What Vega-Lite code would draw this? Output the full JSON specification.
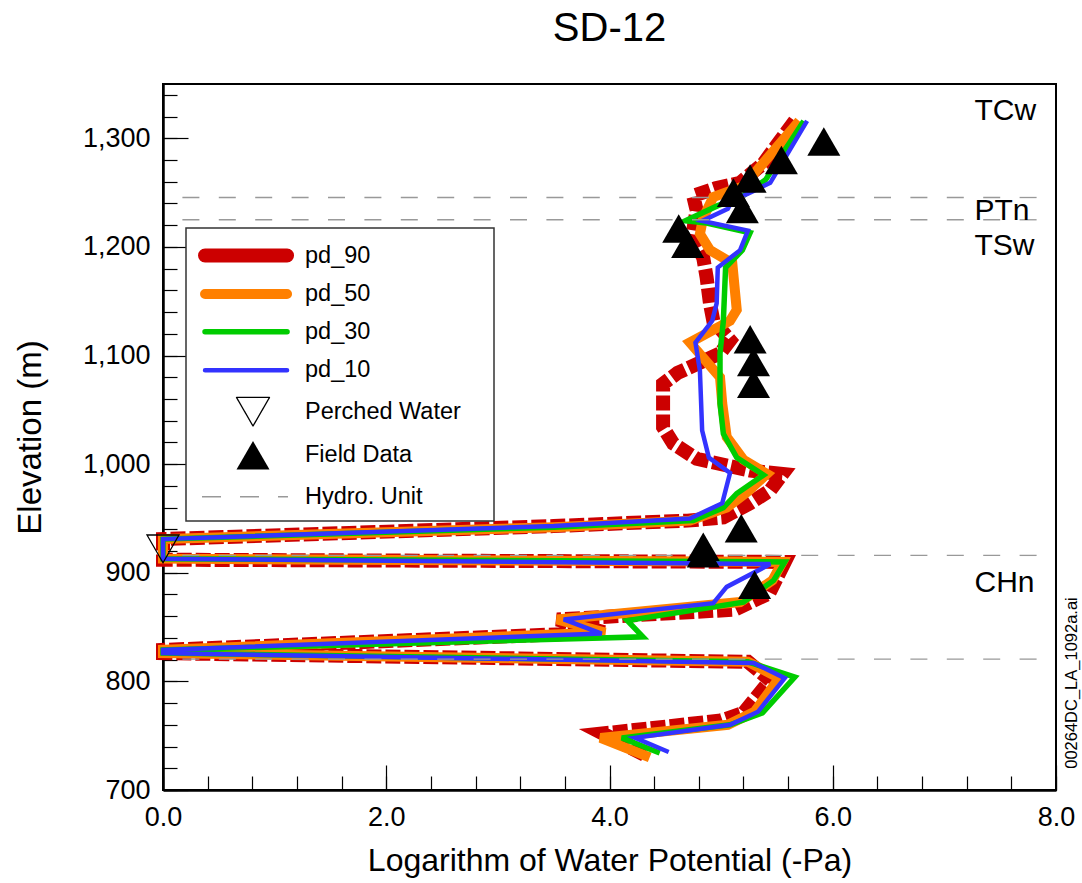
{
  "$schema": "https://vega.github.io/schema/vega-lite/v6.json",
  "width": 893,
  "height": 706,
  "autosize": {"type": "none"},
  "padding": {"left": 163, "top": 84, "right": 26, "bottom": 93},
  "background": "white",
  "config": {
    "view": {"stroke": "#000000", "strokeWidth": 2},
    "font": "Liberation Sans",
    "axis": {"grid": false}
  },
  "title": {
    "text": "SD-12",
    "fontSize": 40,
    "font": "Liberation Sans",
    "fontWeight": "normal",
    "color": "#000000",
    "anchor": "middle",
    "baseline": "alphabetic",
    "offset": 3
  },
  "datasets": {
    "lines": [
      {"series": "pd_90", "idx": 1, "logwp": 5.66, "elev": 1316},
      {"series": "pd_90", "idx": 2, "logwp": 5.53, "elev": 1298},
      {"series": "pd_90", "idx": 3, "logwp": 5.38, "elev": 1277},
      {"series": "pd_90", "idx": 4, "logwp": 5.17, "elev": 1259},
      {"series": "pd_90", "idx": 5, "logwp": 4.95, "elev": 1254},
      {"series": "pd_90", "idx": 6, "logwp": 4.75, "elev": 1247},
      {"series": "pd_90", "idx": 7, "logwp": 4.78, "elev": 1234},
      {"series": "pd_90", "idx": 8, "logwp": 4.74, "elev": 1209},
      {"series": "pd_90", "idx": 9, "logwp": 4.84, "elev": 1190},
      {"series": "pd_90", "idx": 10, "logwp": 4.87, "elev": 1172},
      {"series": "pd_90", "idx": 11, "logwp": 4.90, "elev": 1148},
      {"series": "pd_90", "idx": 12, "logwp": 4.93, "elev": 1132},
      {"series": "pd_90", "idx": 13, "logwp": 5.08, "elev": 1114},
      {"series": "pd_90", "idx": 14, "logwp": 4.99, "elev": 1102},
      {"series": "pd_90", "idx": 15, "logwp": 4.61, "elev": 1084},
      {"series": "pd_90", "idx": 16, "logwp": 4.48, "elev": 1074},
      {"series": "pd_90", "idx": 17, "logwp": 4.48, "elev": 1034},
      {"series": "pd_90", "idx": 18, "logwp": 4.57, "elev": 1019},
      {"series": "pd_90", "idx": 19, "logwp": 4.78, "elev": 1005},
      {"series": "pd_90", "idx": 20, "logwp": 5.26, "elev": 994},
      {"series": "pd_90", "idx": 21, "logwp": 5.55, "elev": 991},
      {"series": "pd_90", "idx": 22, "logwp": 5.44, "elev": 976},
      {"series": "pd_90", "idx": 23, "logwp": 5.26, "elev": 964},
      {"series": "pd_90", "idx": 24, "logwp": 5.02, "elev": 951},
      {"series": "pd_90", "idx": 25, "logwp": 4.70, "elev": 948},
      {"series": "pd_90", "idx": 26, "logwp": 3.50, "elev": 943},
      {"series": "pd_90", "idx": 27, "logwp": 0.0, "elev": 931},
      {"series": "pd_90", "idx": 28, "logwp": 0.0, "elev": 912},
      {"series": "pd_90", "idx": 29, "logwp": 5.57, "elev": 910},
      {"series": "pd_90", "idx": 30, "logwp": 5.43, "elev": 881},
      {"series": "pd_90", "idx": 31, "logwp": 5.12, "elev": 866},
      {"series": "pd_90", "idx": 32, "logwp": 3.53, "elev": 857},
      {"series": "pd_90", "idx": 33, "logwp": 3.96, "elev": 845},
      {"series": "pd_90", "idx": 34, "logwp": 0.0, "elev": 829},
      {"series": "pd_90", "idx": 35, "logwp": 0.0, "elev": 826},
      {"series": "pd_90", "idx": 36, "logwp": 5.24, "elev": 818},
      {"series": "pd_90", "idx": 37, "logwp": 5.44, "elev": 801},
      {"series": "pd_90", "idx": 38, "logwp": 5.20, "elev": 771},
      {"series": "pd_90", "idx": 39, "logwp": 5.00, "elev": 764},
      {"series": "pd_90", "idx": 40, "logwp": 3.94, "elev": 752},
      {"series": "pd_90", "idx": 41, "logwp": 4.34, "elev": 731},

      {"series": "pd_50", "idx": 1, "logwp": 5.70, "elev": 1316},
      {"series": "pd_50", "idx": 2, "logwp": 5.20, "elev": 1256},
      {"series": "pd_50", "idx": 3, "logwp": 4.93, "elev": 1246},
      {"series": "pd_50", "idx": 4, "logwp": 4.84, "elev": 1227},
      {"series": "pd_50", "idx": 5, "logwp": 4.81, "elev": 1212},
      {"series": "pd_50", "idx": 6, "logwp": 4.90, "elev": 1197},
      {"series": "pd_50", "idx": 7, "logwp": 5.10, "elev": 1185},
      {"series": "pd_50", "idx": 8, "logwp": 5.14, "elev": 1142},
      {"series": "pd_50", "idx": 9, "logwp": 5.08, "elev": 1132},
      {"series": "pd_50", "idx": 10, "logwp": 4.72, "elev": 1112},
      {"series": "pd_50", "idx": 11, "logwp": 4.99, "elev": 1080},
      {"series": "pd_50", "idx": 12, "logwp": 5.01, "elev": 1056},
      {"series": "pd_50", "idx": 13, "logwp": 5.05, "elev": 1025},
      {"series": "pd_50", "idx": 14, "logwp": 5.20, "elev": 1004},
      {"series": "pd_50", "idx": 15, "logwp": 5.41, "elev": 991},
      {"series": "pd_50", "idx": 16, "logwp": 5.24, "elev": 975},
      {"series": "pd_50", "idx": 17, "logwp": 5.05, "elev": 960},
      {"series": "pd_50", "idx": 18, "logwp": 4.72, "elev": 948},
      {"series": "pd_50", "idx": 19, "logwp": 3.50, "elev": 942},
      {"series": "pd_50", "idx": 20, "logwp": 0.0, "elev": 931},
      {"series": "pd_50", "idx": 21, "logwp": 0.0, "elev": 913},
      {"series": "pd_50", "idx": 22, "logwp": 5.55, "elev": 910},
      {"series": "pd_50", "idx": 23, "logwp": 5.46, "elev": 893},
      {"series": "pd_50", "idx": 24, "logwp": 5.17, "elev": 873},
      {"series": "pd_50", "idx": 25, "logwp": 3.53, "elev": 857},
      {"series": "pd_50", "idx": 26, "logwp": 3.96, "elev": 845},
      {"series": "pd_50", "idx": 27, "logwp": 0.0, "elev": 829},
      {"series": "pd_50", "idx": 28, "logwp": 0.0, "elev": 826},
      {"series": "pd_50", "idx": 29, "logwp": 5.24, "elev": 818},
      {"series": "pd_50", "idx": 30, "logwp": 5.52, "elev": 803},
      {"series": "pd_50", "idx": 31, "logwp": 5.30, "elev": 772},
      {"series": "pd_50", "idx": 32, "logwp": 5.06, "elev": 760},
      {"series": "pd_50", "idx": 33, "logwp": 3.92, "elev": 748},
      {"series": "pd_50", "idx": 34, "logwp": 4.36, "elev": 730},

      {"series": "pd_30", "idx": 1, "logwp": 5.74, "elev": 1316},
      {"series": "pd_30", "idx": 2, "logwp": 5.40, "elev": 1262},
      {"series": "pd_30", "idx": 3, "logwp": 5.18, "elev": 1246},
      {"series": "pd_30", "idx": 4, "logwp": 4.97, "elev": 1238},
      {"series": "pd_30", "idx": 5, "logwp": 4.68, "elev": 1224},
      {"series": "pd_30", "idx": 6, "logwp": 4.87, "elev": 1222},
      {"series": "pd_30", "idx": 7, "logwp": 5.26, "elev": 1213},
      {"series": "pd_30", "idx": 8, "logwp": 5.19, "elev": 1197},
      {"series": "pd_30", "idx": 9, "logwp": 5.04, "elev": 1181},
      {"series": "pd_30", "idx": 10, "logwp": 5.02, "elev": 1132},
      {"series": "pd_30", "idx": 11, "logwp": 4.99, "elev": 1102},
      {"series": "pd_30", "idx": 12, "logwp": 4.99, "elev": 1056},
      {"series": "pd_30", "idx": 13, "logwp": 5.02, "elev": 1028},
      {"series": "pd_30", "idx": 14, "logwp": 5.14, "elev": 1006},
      {"series": "pd_30", "idx": 15, "logwp": 5.38, "elev": 990},
      {"series": "pd_30", "idx": 16, "logwp": 5.14, "elev": 973},
      {"series": "pd_30", "idx": 17, "logwp": 5.02, "elev": 960},
      {"series": "pd_30", "idx": 18, "logwp": 4.75, "elev": 948},
      {"series": "pd_30", "idx": 19, "logwp": 3.50, "elev": 942},
      {"series": "pd_30", "idx": 20, "logwp": 0.0, "elev": 931},
      {"series": "pd_30", "idx": 21, "logwp": 0.0, "elev": 913},
      {"series": "pd_30", "idx": 22, "logwp": 5.57, "elev": 910},
      {"series": "pd_30", "idx": 23, "logwp": 5.47, "elev": 893},
      {"series": "pd_30", "idx": 24, "logwp": 5.20, "elev": 873},
      {"series": "pd_30", "idx": 25, "logwp": 4.16, "elev": 856},
      {"series": "pd_30", "idx": 26, "logwp": 4.30, "elev": 841},
      {"series": "pd_30", "idx": 27, "logwp": 0.0, "elev": 829},
      {"series": "pd_30", "idx": 28, "logwp": 0.0, "elev": 826},
      {"series": "pd_30", "idx": 29, "logwp": 5.24, "elev": 818},
      {"series": "pd_30", "idx": 30, "logwp": 5.66, "elev": 804},
      {"series": "pd_30", "idx": 31, "logwp": 5.37, "elev": 771},
      {"series": "pd_30", "idx": 32, "logwp": 5.08, "elev": 760},
      {"series": "pd_30", "idx": 33, "logwp": 4.11, "elev": 748},
      {"series": "pd_30", "idx": 34, "logwp": 4.45, "elev": 734},

      {"series": "pd_10", "idx": 1, "logwp": 5.77, "elev": 1316},
      {"series": "pd_10", "idx": 2, "logwp": 5.44, "elev": 1259},
      {"series": "pd_10", "idx": 3, "logwp": 5.24, "elev": 1249},
      {"series": "pd_10", "idx": 4, "logwp": 5.10, "elev": 1243},
      {"series": "pd_10", "idx": 5, "logwp": 5.06, "elev": 1235},
      {"series": "pd_10", "idx": 6, "logwp": 4.83, "elev": 1224},
      {"series": "pd_10", "idx": 7, "logwp": 5.24, "elev": 1215},
      {"series": "pd_10", "idx": 8, "logwp": 5.17, "elev": 1197},
      {"series": "pd_10", "idx": 9, "logwp": 4.97, "elev": 1181},
      {"series": "pd_10", "idx": 10, "logwp": 4.96, "elev": 1148},
      {"series": "pd_10", "idx": 11, "logwp": 4.92, "elev": 1132},
      {"series": "pd_10", "idx": 12, "logwp": 4.77, "elev": 1112},
      {"series": "pd_10", "idx": 13, "logwp": 4.81, "elev": 1086},
      {"series": "pd_10", "idx": 14, "logwp": 4.83, "elev": 1031},
      {"series": "pd_10", "idx": 15, "logwp": 4.89, "elev": 1006},
      {"series": "pd_10", "idx": 16, "logwp": 5.08, "elev": 992},
      {"series": "pd_10", "idx": 17, "logwp": 5.01, "elev": 964},
      {"series": "pd_10", "idx": 18, "logwp": 4.72, "elev": 950},
      {"series": "pd_10", "idx": 19, "logwp": 3.50, "elev": 943},
      {"series": "pd_10", "idx": 20, "logwp": 0.0, "elev": 931},
      {"series": "pd_10", "idx": 21, "logwp": 0.0, "elev": 913},
      {"series": "pd_10", "idx": 22, "logwp": 5.44, "elev": 908},
      {"series": "pd_10", "idx": 23, "logwp": 5.05, "elev": 887},
      {"series": "pd_10", "idx": 24, "logwp": 4.93, "elev": 872},
      {"series": "pd_10", "idx": 25, "logwp": 3.59, "elev": 857},
      {"series": "pd_10", "idx": 26, "logwp": 3.93, "elev": 844},
      {"series": "pd_10", "idx": 27, "logwp": 0.0, "elev": 829},
      {"series": "pd_10", "idx": 28, "logwp": 0.0, "elev": 826},
      {"series": "pd_10", "idx": 29, "logwp": 5.29, "elev": 817},
      {"series": "pd_10", "idx": 30, "logwp": 5.57, "elev": 803},
      {"series": "pd_10", "idx": 31, "logwp": 5.33, "elev": 772},
      {"series": "pd_10", "idx": 32, "logwp": 5.08, "elev": 760},
      {"series": "pd_10", "idx": 33, "logwp": 4.23, "elev": 748},
      {"series": "pd_10", "idx": 34, "logwp": 4.53, "elev": 735}
    ],
    "field": [
      {"series": "Field Data", "logwp": 5.92, "elev": 1297},
      {"series": "Field Data", "logwp": 5.54, "elev": 1280},
      {"series": "Field Data", "logwp": 5.26, "elev": 1263},
      {"series": "Field Data", "logwp": 5.11, "elev": 1250},
      {"series": "Field Data", "logwp": 5.19, "elev": 1235},
      {"series": "Field Data", "logwp": 4.62, "elev": 1217},
      {"series": "Field Data", "logwp": 4.70, "elev": 1203},
      {"series": "Field Data", "logwp": 5.26, "elev": 1115},
      {"series": "Field Data", "logwp": 5.29, "elev": 1094},
      {"series": "Field Data", "logwp": 5.29, "elev": 1074},
      {"series": "Field Data", "logwp": 5.18, "elev": 941},
      {"series": "Field Data", "logwp": 4.84, "elev": 924},
      {"series": "Field Data", "logwp": 4.84, "elev": 918},
      {"series": "Field Data", "logwp": 5.30, "elev": 889}
    ],
    "perched": [
      {"series": "Perched Water", "logwp": 0.0, "elev": 922}
    ],
    "hydro": [
      {"series": "Hydro. Unit", "elev": 1245.5},
      {"series": "Hydro. Unit", "elev": 1225},
      {"series": "Hydro. Unit", "elev": 916},
      {"series": "Hydro. Unit", "elev": 820.5}
    ],
    "units": [
      {"label": "TCw", "logwp": 7.27, "elev": 1325},
      {"label": "PTn", "logwp": 7.27, "elev": 1233},
      {"label": "TSw", "logwp": 7.27, "elev": 1201},
      {"label": "CHn", "logwp": 7.27, "elev": 891}
    ],
    "stamp": [
      {"label": "00264DC_LA_1092a.ai", "logwp": 8.145, "elev": 798.5}
    ]
  },
  "resolve": {"axis": {"x": "independent", "y": "independent"}},
  "layer": [
    {
      "layer": [
        {
          "data": {"name": "lines"},
          "transform": [{"filter": {"field": "series", "equal": "pd_90"}}],
          "mark": {"type": "line", "strokeDash": [15, 4], "strokeCap": "butt"},
          "encoding": {
            "x": {
              "field": "logwp", "type": "quantitative",
              "scale": {"domain": [0, 8], "nice": false, "zero": false},
              "axis": {
                "orient": "bottom",
                "values": [0, 2, 4, 6, 8], "format": ".1f",
                "tickSize": -25, "tickWidth": 1.2, "tickColor": "#000000",
                "labelPadding": 39, "labelFontSize": 27, "labelColor": "#000000", "labelFont": "Liberation Sans",
                "labelFlush": false, "labelOverlap": false,
                "domainColor": "#000000", "domainWidth": 2.5,
                "title": "Logarithm of Water Potential (-Pa)", "titleFontSize": 32, "titleFontWeight": "normal",
                "titleColor": "#000000", "titleFont": "Liberation Sans", "titleY": 70, "titleBaseline": "middle"
              }
            },
            "y": {
              "field": "elev", "type": "quantitative",
              "scale": {"domain": [700, 1350], "nice": false, "zero": false},
              "axis": {
                "orient": "left",
                "values": [700, 800, 900, 1000, 1100, 1200, 1300], "format": ",.0f",
                "tickSize": -25, "tickWidth": 1.2, "tickColor": "#000000",
                "labelPadding": 38, "labelFontSize": 27, "labelColor": "#000000", "labelFont": "Liberation Sans",
                "labelFlush": false, "labelOverlap": false,
                "domainColor": "#000000", "domainWidth": 2.5,
                "title": "Elevation (m)", "titleFontSize": 33, "titleFontWeight": "normal",
                "titleColor": "#000000", "titleFont": "Liberation Sans", "titleX": -133, "titleY": 353, "titleBaseline": "middle"
              }
            },
            "order": {"field": "idx", "type": "quantitative"},
            "color": {
              "field": "series", "type": "nominal",
              "scale": {
                "domain": ["pd_90", "pd_50", "pd_30", "pd_10", "Perched Water", "Field Data", "Hydro. Unit"],
                "range": ["#cc0000", "#ff8000", "#00cc00", "#3333ff", "#000000", "#000000", "#999999"]
              },
              "legend": {
                "orient": "none", "legendX": 23, "legendY": 144, "title": null,
                "direction": "vertical", "columns": 1,
                "padding": 12, "strokeColor": "#333333", "fillColor": "#ffffff",
                "labelFont": "Liberation Sans", "labelFontSize": 23.5, "labelColor": "#000000",
                "labelOffset": 76, "labelLimit": 400,
                "symbolSize": 282, "rowPadding": 13.5,
                "encode": {
                  "symbols": {
                    "update": {
                      "shape": {"signal": "datum.value === 'Perched Water' ? 'M4.705,1.703L2.74,-1.703L6.67,-1.703Z' : datum.value === 'Field Data' ? 'M4.705,-1.703L2.74,1.703L6.67,1.703ZM31.96,0' : datum.value === 'Hydro. Unit' ? 'M-1.37,0H8.87' : 'M-1.01,0H8.76'"},
                      "fill": {"signal": "datum.value === 'Field Data' ? '#000000' : 'transparent'"},
                      "fillOpacity": {"signal": "datum.value === 'Field Data' ? 1 : 0"},
                      "strokeCap": {"signal": "indexof(['pd_90','pd_50','pd_30','pd_10'], datum.value) >= 0 ? 'round' : 'butt'"},
                      "strokeJoin": {"value": "round"},
                      "strokeDash": {"signal": "datum.value === 'Hydro. Unit' ? [19,19] : [1,0]"},
                      "opacity": {"value": 1}
                    }
                  },
                  "legend": {
                    "update": {"strokeWidth": {"value": 1.5}}
                  }
                }
              }
            },
            "strokeWidth": {
              "field": "series", "type": "ordinal",
              "scale": {
                "type": "ordinal",
                "domain": ["pd_90", "pd_50", "pd_30", "pd_10", "Perched Water", "Field Data", "Hydro. Unit"],
                "range": [14, 10, 5.5, 4.5, 1.3, 0, 1.3]
              }
            }
          }
        },
        {
          "data": {"name": "lines"},
          "transform": [{"filter": {"field": "series", "equal": "pd_50"}}],
          "mark": {"type": "line"},
          "encoding": {
            "x": {"field": "logwp", "type": "quantitative"},
            "y": {"field": "elev", "type": "quantitative"},
            "order": {"field": "idx", "type": "quantitative"},
            "color": {"field": "series", "type": "nominal", "scale": {"domain": ["pd_90", "pd_50", "pd_30", "pd_10", "Perched Water", "Field Data", "Hydro. Unit"], "range": ["#cc0000", "#ff8000", "#00cc00", "#3333ff", "#000000", "#000000", "#999999"]}, "legend": null},
            "strokeWidth": {"field": "series", "type": "ordinal", "scale": {"type": "ordinal", "domain": ["pd_90", "pd_50", "pd_30", "pd_10", "Perched Water", "Field Data", "Hydro. Unit"], "range": [14, 10, 5.5, 4.5, 1.3, 0, 1.3]}, "legend": null}
          }
        },
        {
          "data": {"name": "lines"},
          "transform": [{"filter": {"field": "series", "equal": "pd_30"}}],
          "mark": {"type": "line"},
          "encoding": {
            "x": {"field": "logwp", "type": "quantitative"},
            "y": {"field": "elev", "type": "quantitative"},
            "order": {"field": "idx", "type": "quantitative"},
            "color": {"field": "series", "type": "nominal", "scale": {"domain": ["pd_90", "pd_50", "pd_30", "pd_10", "Perched Water", "Field Data", "Hydro. Unit"], "range": ["#cc0000", "#ff8000", "#00cc00", "#3333ff", "#000000", "#000000", "#999999"]}, "legend": null},
            "strokeWidth": {"field": "series", "type": "ordinal", "scale": {"type": "ordinal", "domain": ["pd_90", "pd_50", "pd_30", "pd_10", "Perched Water", "Field Data", "Hydro. Unit"], "range": [14, 10, 5.5, 4.5, 1.3, 0, 1.3]}, "legend": null}
          }
        },
        {
          "data": {"name": "lines"},
          "transform": [{"filter": {"field": "series", "equal": "pd_10"}}],
          "mark": {"type": "line"},
          "encoding": {
            "x": {"field": "logwp", "type": "quantitative"},
            "y": {"field": "elev", "type": "quantitative"},
            "order": {"field": "idx", "type": "quantitative"},
            "color": {"field": "series", "type": "nominal", "scale": {"domain": ["pd_90", "pd_50", "pd_30", "pd_10", "Perched Water", "Field Data", "Hydro. Unit"], "range": ["#cc0000", "#ff8000", "#00cc00", "#3333ff", "#000000", "#000000", "#999999"]}, "legend": null},
            "strokeWidth": {"field": "series", "type": "ordinal", "scale": {"type": "ordinal", "domain": ["pd_90", "pd_50", "pd_30", "pd_10", "Perched Water", "Field Data", "Hydro. Unit"], "range": [14, 10, 5.5, 4.5, 1.3, 0, 1.3]}, "legend": null}
          }
        },
        {
          "data": {"name": "hydro"},
          "mark": {"type": "rule", "strokeDash": [17, 19.4], "strokeDashOffset": 17, "strokeWidth": 1.3},
          "encoding": {
            "y": {"field": "elev", "type": "quantitative"},
            "color": {"field": "series", "type": "nominal", "scale": {"domain": ["pd_90", "pd_50", "pd_30", "pd_10", "Perched Water", "Field Data", "Hydro. Unit"], "range": ["#cc0000", "#ff8000", "#00cc00", "#3333ff", "#000000", "#000000", "#999999"]}, "legend": null}
          }
        },
        {
          "data": {"name": "field"},
          "mark": {"type": "point", "shape": "triangle-up", "filled": true, "size": 1090, "opacity": 1, "strokeWidth": 0},
          "encoding": {
            "x": {"field": "logwp", "type": "quantitative"},
            "y": {"field": "elev", "type": "quantitative"},
            "color": {"field": "series", "type": "nominal", "scale": {"domain": ["pd_90", "pd_50", "pd_30", "pd_10", "Perched Water", "Field Data", "Hydro. Unit"], "range": ["#cc0000", "#ff8000", "#00cc00", "#3333ff", "#000000", "#000000", "#999999"]}, "legend": null}
          }
        },
        {
          "data": {"name": "perched"},
          "mark": {"type": "point", "shape": "triangle-down", "filled": false, "size": 1024, "opacity": 1, "strokeWidth": 1.3},
          "encoding": {
            "x": {"field": "logwp", "type": "quantitative"},
            "y": {"field": "elev", "type": "quantitative"},
            "color": {"field": "series", "type": "nominal", "scale": {"domain": ["pd_90", "pd_50", "pd_30", "pd_10", "Perched Water", "Field Data", "Hydro. Unit"], "range": ["#cc0000", "#ff8000", "#00cc00", "#3333ff", "#000000", "#000000", "#999999"]}, "legend": null}
          }
        },
        {
          "data": {"name": "units"},
          "mark": {"type": "text", "align": "left", "baseline": "middle", "fontSize": 30, "font": "Liberation Sans", "color": "#000000"},
          "encoding": {
            "x": {"field": "logwp", "type": "quantitative"},
            "y": {"field": "elev", "type": "quantitative"},
            "text": {"field": "label", "type": "nominal"}
          }
        },
        {
          "data": {"name": "stamp"},
          "mark": {"type": "text", "align": "center", "baseline": "middle", "angle": 270, "fontSize": 16.5, "font": "Liberation Sans", "color": "#000000"},
          "encoding": {
            "x": {"field": "logwp", "type": "quantitative"},
            "y": {"field": "elev", "type": "quantitative"},
            "text": {"field": "label", "type": "nominal"}
          }
        }
      ]
    },
    {
      "data": {"name": "field"},
      "mark": {"type": "point", "opacity": 0},
      "encoding": {
        "x": {
          "field": "logwp", "type": "quantitative",
          "scale": {"domain": [0, 8], "nice": false, "zero": false},
          "axis": {
            "orient": "bottom",
            "values": [0, 0.4, 0.8, 1.2, 1.6, 2, 2.4, 2.8, 3.2, 3.6, 4, 4.4, 4.8, 5.2, 5.6, 6, 6.4, 6.8, 7.2, 7.6, 8],
            "labels": false, "domain": false, "tickSize": -14, "tickWidth": 1.2, "tickColor": "#000000", "title": null, "grid": false
          }
        },
        "y": {
          "field": "elev", "type": "quantitative",
          "scale": {"domain": [700, 1350], "nice": false, "zero": false},
          "axis": {
            "orient": "left",
            "values": [700, 720, 740, 760, 780, 800, 820, 840, 860, 880, 900, 920, 940, 960, 980, 1000, 1020, 1040, 1060, 1080, 1100, 1120, 1140, 1160, 1180, 1200, 1220, 1240, 1260, 1280, 1300, 1320, 1340],
            "labels": false, "domain": false, "tickSize": -14, "tickWidth": 1.2, "tickColor": "#000000", "title": null, "grid": false
          }
        }
      }
    }
  ]
}
